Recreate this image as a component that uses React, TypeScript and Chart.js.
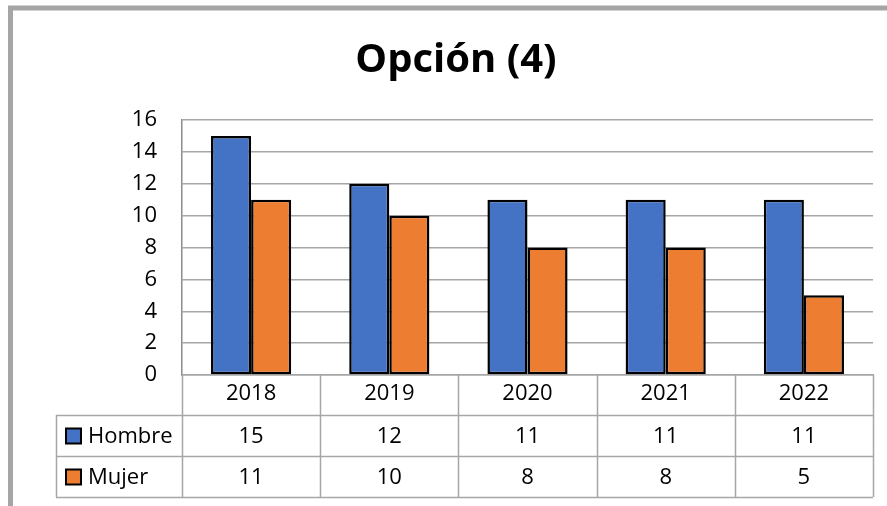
import React, { useEffect, useRef } from "react";
import { Chart, registerables } from "chart.js";

Chart.register(...registerables);

const years = ["2018", "2019", "2020", "2021", "2022"];
const hombre = [15, 12, 11, 11, 11];
const mujer = [11, 10, 8, 8, 5];
const seriesNames = ["Hombre", "Mujer"];
const yTicks = [0, 2, 4, 6, 8, 10, 12, 14, 16];

const FONT = "'Open Sans', 'DejaVu Sans', sans-serif";
const BLUE = "#4472c4";
const ORANGE = "#ed7d31";
const LINE = "#a6a6a6";

const framePlugin = {
  id: "frame",
  beforeDraw(chart: any) {
    const ctx = chart.ctx;
    ctx.save();
    ctx.fillStyle = "#ffffff";
    ctx.fillRect(0, 0, chart.width, chart.height);
    ctx.strokeStyle = "#a5a5a5";
    ctx.lineWidth = 5;
    ctx.strokeRect(10.5, 8, chart.width + 20, chart.height + 20);
    ctx.restore();
  },
};

const tablePlugin = {
  id: "dataTable",
  afterDraw(chart: any) {
    const ctx = chart.ctx;
    const xs = chart.scales.x;
    const area = chart.chartArea;
    const n = years.length;
    const step = xs.width / n;
    const bounds: number[] = [];
    for (let i = 0; i <= n; i++) {
      bounds.push(i < n ? xs.getPixelForValue(i) - step / 2 : xs.getPixelForValue(n - 1) + step / 2);
    }
    const rowH = 41;
    const headerBottom = area.bottom + 40;
    const rowsTop = [headerBottom, headerBottom + rowH];
    const tableBottom = headerBottom + 2 * rowH;
    const leftEdge = 56;
    ctx.save();
    ctx.strokeStyle = LINE;
    ctx.lineWidth = 1.5;
    bounds.forEach((bx) => {
      ctx.beginPath();
      ctx.moveTo(Math.round(bx) + 0.5, area.bottom);
      ctx.lineTo(Math.round(bx) + 0.5, tableBottom);
      ctx.stroke();
    });
    ctx.beginPath();
    ctx.moveTo(leftEdge + 0.5, headerBottom);
    ctx.lineTo(leftEdge + 0.5, tableBottom);
    ctx.stroke();
    [headerBottom, headerBottom + rowH, tableBottom].forEach((y) => {
      ctx.beginPath();
      ctx.moveTo(leftEdge, Math.round(y) + 0.5);
      ctx.lineTo(bounds[n], Math.round(y) + 0.5);
      ctx.stroke();
    });
    const rows = [hombre, mujer];
    const colors = [BLUE, ORANGE];
    ctx.font = `22px ${FONT}`;
    ctx.fillStyle = "#000";
    ctx.textBaseline = "middle";
    rows.forEach((vals, r) => {
      const cy = rowsTop[r] + rowH / 2 + 1;
      ctx.textAlign = "center";
      vals.forEach((v, i) => {
        ctx.fillText(String(v), xs.getPixelForValue(i), cy);
      });
      ctx.fillStyle = colors[r];
      ctx.fillRect(66, cy - 8, 15, 15);
      ctx.strokeStyle = "#000";
      ctx.lineWidth = 2;
      ctx.strokeRect(66, cy - 8, 15, 15);
      ctx.fillStyle = "#000";
      ctx.textAlign = "left";
      ctx.fillText(seriesNames[r], 88, cy);
      ctx.strokeStyle = LINE;
    });
    ctx.restore();
  },
};

export default function App() {
  const ref = useRef<HTMLCanvasElement | null>(null);
  useEffect(() => {
    if (!ref.current) return;
    const chart = new Chart(ref.current, {
      type: "bar",
      data: {
        labels: years,
        datasets: [
          {
            label: seriesNames[0],
            data: hombre,
            backgroundColor: BLUE,
            borderColor: "#000",
            borderWidth: 2.5,
            borderSkipped: false,
            categoryPercentage: 0.58,
            barPercentage: 1,
          },
          {
            label: seriesNames[1],
            data: mujer,
            backgroundColor: ORANGE,
            borderColor: "#000",
            borderWidth: 2.5,
            borderSkipped: false,
            categoryPercentage: 0.58,
            barPercentage: 1,
          },
        ],
      },
      options: {
        responsive: false,
        animation: false,
        layout: { padding: { left: 39, right: 14, top: 0, bottom: 0 } },
        plugins: {
          legend: { display: false },
          tooltip: { enabled: false },
          title: {
            display: true,
            text: "Opción (4)",
            color: "#000",
            font: { family: FONT, size: 40, weight: "bold", lineHeight: 1.2 },
            padding: { top: 37, bottom: 35 },
          },
        },
        scales: {
          x: {
            grid: { display: false, drawTicks: false },
            border: { display: true, color: LINE, width: 1.5 },
            ticks: {
              color: "#000",
              font: { family: FONT, size: 22 },
              padding: 6,
            },
            afterFit: (s: any) => {
              s.height = 131;
            },
          },
          y: {
            min: 0,
            max: 16,
            afterBuildTicks: (s: any) => {
              s.ticks = yTicks.map((v) => ({ value: v }));
            },
            grid: { color: LINE, lineWidth: 1.5, drawTicks: false },
            border: { display: true, color: "#8c8c8c", width: 1.5 },
            ticks: {
              color: "#000",
              font: { family: FONT, size: 22 },
              padding: 25,
            },
            afterFit: (s: any) => {
              s.width = 143;
            },
          },
        },
      },
      plugins: [framePlugin, tablePlugin],
    });
    return () => chart.destroy();
  }, []);
  return (
    <div style={{ position: "fixed", left: 0, top: 0, width: 887, height: 506 }}>
      <canvas ref={ref} width={887} height={506} />
    </div>
  );
}
